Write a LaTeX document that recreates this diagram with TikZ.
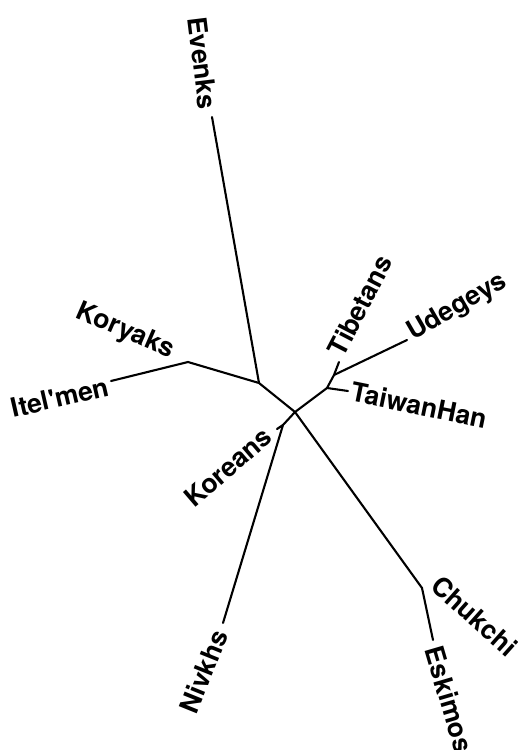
\documentclass[tikz,border=0pt]{standalone}
\usepackage{fontspec}
\setmainfont{TeX Gyre Heros}
\begin{document}
\begin{tikzpicture}[x=1pt,y=-1pt,
  branch/.style={line width=2.1pt,line cap=round,line join=round},
  lbl/.style={font=\fontsize{26.5}{31}\selectfont\bfseries,inner sep=0pt,anchor=center}]
\useasboundingbox (0,0) rectangle (517,750);
% internal nodes
\coordinate (C) at (295,412);
\coordinate (A) at (259,383);
\coordinate (K) at (188,362);
\coordinate (N1) at (283,425);
\coordinate (T1) at (327,388);
\coordinate (T2) at (334,375);
\coordinate (E) at (422,588);
% tips
\coordinate (tEv) at (212,117);
\coordinate (tIt) at (111,381);
\coordinate (tTi) at (339,362);
\coordinate (tUd) at (407,340);
\coordinate (tTa) at (348,391);
\coordinate (tKo) at (277,429);
\coordinate (tNi) at (223,623);
\coordinate (tEs) at (433,640);
% branches
\draw[branch] (tEv) -- (A);
\draw[branch] (tIt) -- (K) -- (A) -- (C);
\draw[branch] (C) -- (T1) -- (T2) -- (tUd);
\draw[branch] (T2) -- (tTi);
\draw[branch] (T1) -- (tTa);
\draw[branch] (C) -- (N1) -- (tNi);
\draw[branch] (N1) -- (tKo);
\draw[branch] (C) -- (E) -- (tEs);
% labels
\node[lbl,rotate=-83] (lEv) at (202.5,63) {Evenks};
\node[lbl,rotate=-23.5] (lKy) at (125,331.5) {Koryaks};
\node[lbl,rotate=13] (lIt) at (60,397.5) {Itel\textquotesingle men};
\node[lbl,rotate=62.6] (lTi) at (360,305.5) {Tibetans};
\node[lbl,rotate=30] (lUd) at (457.5,307.5) {Udegeys};
\node[lbl,rotate=-11.5] (lTa) at (419,405) {TaiwanHan};
\node[lbl,rotate=40.6] (lKo) at (228,467) {Koreans};
\node[lbl,rotate=68] (lNi) at (203.5,671.5) {Nivkhs};
\node[lbl,rotate=-41.7] (lCh) at (474.5,616) {Chukchi};
\node[lbl,rotate=-73.6] (lEs) at (449.5,699.5) {Eskimos};
\end{tikzpicture}
\end{document}
